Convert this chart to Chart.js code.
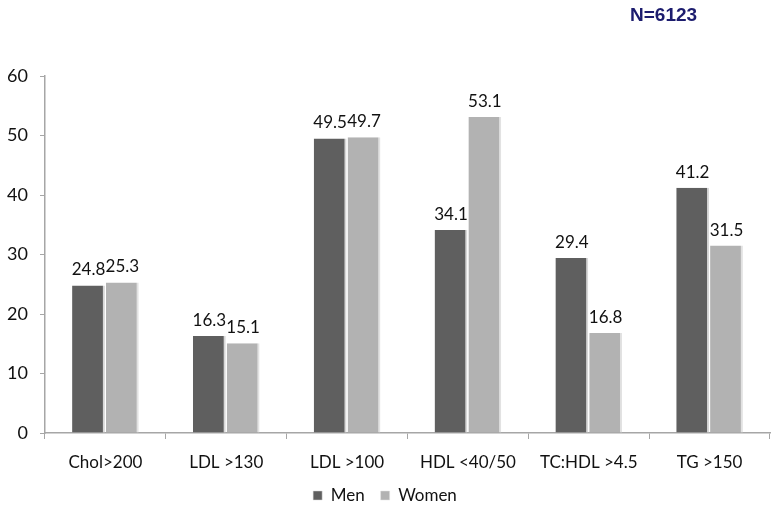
<!DOCTYPE html>
<html><head><meta charset="utf-8">
<script src="https://cdn.jsdelivr.net/npm/chart.js@4.4.1/dist/chart.umd.min.js"></script>
<style>
html,body{margin:0;padding:0;background:#fff;}
#wrap{position:relative;width:777px;height:506px;}
#note{position:absolute;left:630px;top:4px;font:bold 19px "Liberation Sans",Arial,sans-serif;color:#1c1c6e;}
</style></head>
<body><div id="wrap"><canvas id="c" width="777" height="506"></canvas><div id="note">N=6123</div></div>
<script>
const categories = ["Chol>200","LDL >130","LDL >100","HDL <40/50","TC:HDL >4.5","TG >150"];
const men = [24.8,16.3,49.5,34.1,29.4,41.2];
const women = [25.3,15.1,49.7,53.1,16.8,31.5];
const yTicks = [0,10,20,30,40,50,60];

const FONT = "Lato";
const labelPlugin = {
  id:'barLabels',
  afterDatasetsDraw(chart){
    const ctx = chart.ctx;
    ctx.save();
    ctx.font = "17px " + FONT;
    ctx.fillStyle = "#111";
    ctx.textAlign = "center";
    ctx.textBaseline = "bottom";
    chart.data.datasets.forEach((ds,i)=>{
      chart.getDatasetMeta(i).data.forEach((bar,j)=>{
        ctx.fillText(ds.data[j].toFixed(1), bar.x, bar.y - 7);
      });
    });
    ctx.restore();
  }
};

new Chart(document.getElementById('c'),{
  type:'bar',
  data:{labels:categories,datasets:[
    {label:'Men',data:men,backgroundColor:'#5f5f5f',borderColor:'#d8d8d8',borderWidth:{right:2},categoryPercentage:0.56,barPercentage:0.97},
    {label:'Women',data:women,backgroundColor:'#b2b2b2',borderColor:'#e2e2e2',borderWidth:{right:2},categoryPercentage:0.56,barPercentage:0.97}
  ]},
  options:{
    responsive:false,animation:false,
    layout:{padding:{top:76,right:7,left:0,bottom:-8}},
    plugins:{
      legend:{position:'bottom',labels:{boxWidth:9,boxHeight:9,padding:16,color:'#111',font:{family:FONT,size:17}}},
      tooltip:{enabled:false}
    },
    scales:{
      x:{
        afterFit(ax){ax.height = 38;},
        grid:{drawOnChartArea:false,offset:true,tickLength:6,color:'#a6a6a6'},
        border:{color:'#a6a6a6',width:1.5},
        ticks:{color:'#111',font:{family:FONT,size:17},padding:13}
      },
      y:{
        min:0,max:60,
        afterBuildTicks(ax){ax.ticks = yTicks.map(v=>({value:v}));},
        afterFit(ax){ax.width = 45;},
        grid:{drawOnChartArea:false,tickLength:5,color:'#a6a6a6'},
        border:{color:'#a6a6a6',width:1.5},
        ticks:{color:'#111',font:{family:FONT,size:18},padding:12}
      }
    }
  },
  plugins:[labelPlugin]
});
</script></body></html>
